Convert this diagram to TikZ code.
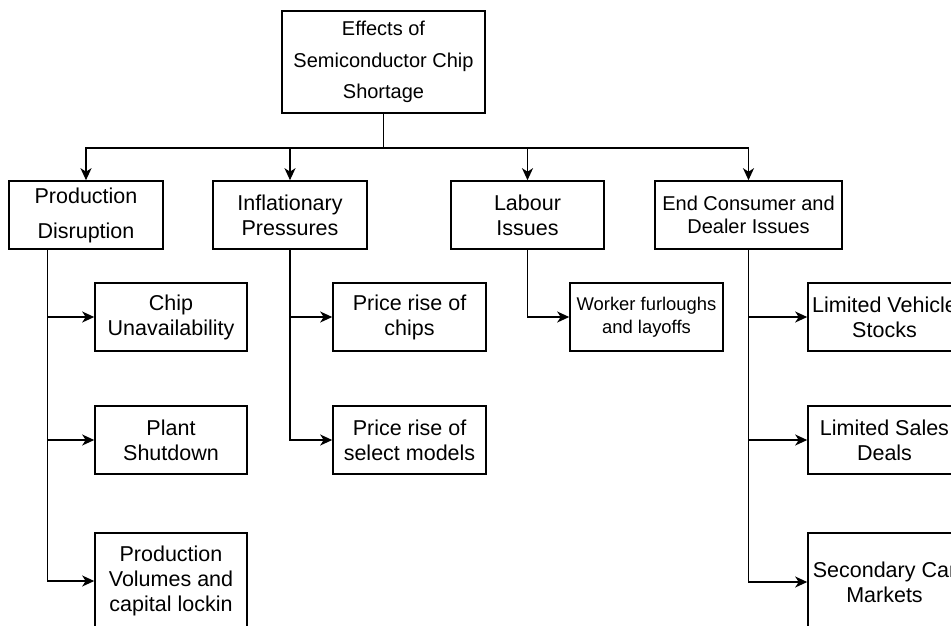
\documentclass[tikz,border=0pt]{standalone}
\usepackage{fontspec}
\setmainfont{Liberation Sans}
\usetikzlibrary{arrows.meta}
\begin{document}
\begin{tikzpicture}[x=1pt,y=-1pt,
  box/.style={draw=black,line width=1.6pt,fill=white,rectangle,inner sep=0pt,align=center,
    font=\fontsize{21.5}{25}\selectfont},
  arr/.style={line width=1.6pt,-{Stealth[length=12pt,width=11pt,inset=3.5pt]}},
  ln/.style={line width=1.6pt}]
\clip (0,0) rectangle (951,625);
\fill[white] (0,0) rectangle (951,625);
\node[box,minimum width=203pt,minimum height=102pt,font=\fontsize{20}{31.5}\selectfont] (top) at (383.5,62)
  {\raisebox{4pt}{\parbox{200pt}{\centering Effects of\\Semiconductor Chip\\Shortage}}};
\node[box,minimum width=154pt,minimum height=68pt,font=\fontsize{21.5}{35}\selectfont] (pd) at (86,215) {Production\\Disruption};
\node[box,minimum width=154pt,minimum height=68pt] (ip) at (290,215) {Inflationary\\Pressures};
\node[box,minimum width=153pt,minimum height=68pt] (li) at (527.5,215) {Labour\\Issues};
\node[box,minimum width=187pt,minimum height=68pt,font=\fontsize{20}{23}\selectfont] (ec) at (748.5,215) {End Consumer and\\Dealer Issues};
\node[box,minimum width=152pt,minimum height=68pt] (cu) at (171,317) {Chip\\Unavailability};
\node[box,minimum width=152pt,minimum height=68pt] (ps) at (171,440) {Plant\\Shutdown};
\node[box,minimum width=152pt,minimum height=96pt] (pv) at (171,581) {Production\\Volumes and\\capital lockin};
\node[box,minimum width=153pt,minimum height=68pt] (pc) at (409.5,317) {Price rise of\\chips};
\node[box,minimum width=153pt,minimum height=68pt] (pm) at (409.5,440) {Price rise of\\select models};
\node[box,minimum width=153pt,minimum height=68pt,font=\fontsize{18.4}{23}\selectfont] (wf) at (646.5,317) {Worker furloughs\\and layoffs};
\node[box,minimum width=153pt,minimum height=68pt] (lv) at (884.5,317) {Limited Vehicle\\Stocks};
\node[box,minimum width=153pt,minimum height=68pt] (ls) at (884.5,440) {Limited Sales\\Deals};
\node[box,minimum width=153pt,minimum height=98pt] (sc) at (884.5,582) {Secondary Car\\Markets};
\draw[arr] (top.south) -- ++(0,34) -| (pd.north);
\draw[arr] (top.south) -- ++(0,34) -| (ip.north);
\draw[arr] (top.south) -- ++(0,34) -| (li.north);
\draw[arr] (top.south) -- ++(0,34) -| (ec.north);
\draw[arr] ([xshift=-38.5pt]pd.south) |- (cu.west);
\draw[arr] ([xshift=-38.5pt]pd.south) |- (ps.west);
\draw[arr] ([xshift=-38.5pt]pd.south) |- (pv.west);
\draw[arr] (ip.south) |- (pc.west);
\draw[arr] (ip.south) |- (pm.west);
\draw[arr] (li.south) |- (wf.west);
\draw[arr] (ec.south) |- (lv.west);
\draw[arr] (ec.south) |- (ls.west);
\draw[arr] (ec.south) |- (sc.west);
\end{tikzpicture}
\end{document}
